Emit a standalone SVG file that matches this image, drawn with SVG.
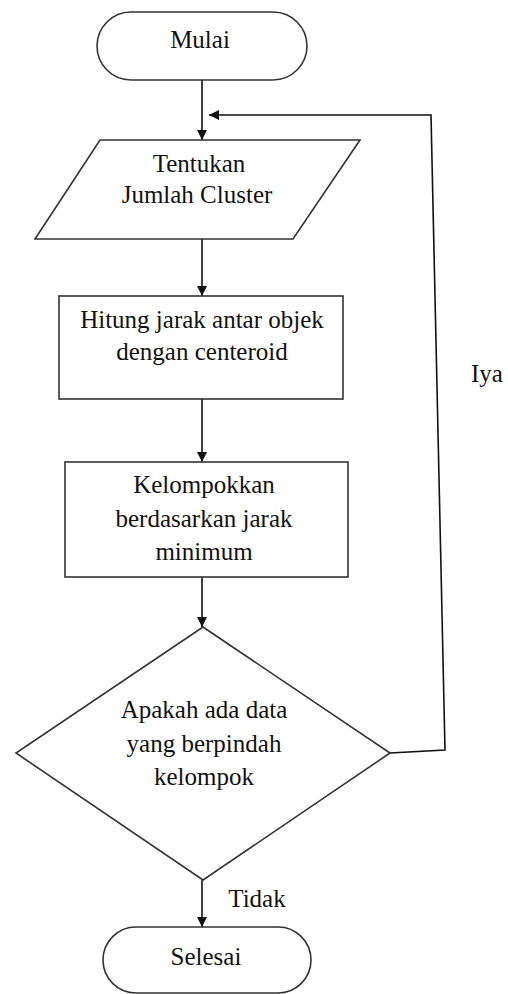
<svg xmlns="http://www.w3.org/2000/svg" width="508" height="994" viewBox="0 0 508 994">
<style>
.shape{fill:#fff;stroke:#333;stroke-width:1.6}
.conn{fill:none;stroke:#111;stroke-width:1.6}
</style>
<defs>
<marker id="arr" viewBox="0 0 10 10" refX="10" refY="5" markerWidth="10" markerHeight="10" markerUnits="userSpaceOnUse" orient="auto">
<path d="M0,0 L10,5 L0,10 Z" fill="#111"/>
</marker>
</defs>
<rect width="508" height="994" fill="#fff"/>
<g font-family="Liberation Serif, Times New Roman, serif" font-size="25" fill="#111" text-anchor="middle">
<g id="connectors">
<line class="conn" x1="202" y1="80" x2="202" y2="140" marker-end="url(#arr)"/>
<line class="conn" x1="202" y1="239" x2="202" y2="296" marker-end="url(#arr)"/>
<line class="conn" x1="202" y1="399" x2="202" y2="462" marker-end="url(#arr)"/>
<line class="conn" x1="202" y1="577" x2="202" y2="627" marker-end="url(#arr)"/>
<line class="conn" x1="202" y1="880" x2="202" y2="927" marker-end="url(#arr)"/>
<polyline class="conn" points="390,753 445,750 431,115 209,115" marker-end="url(#arr)"/>
<text x="257" y="907">Tidak</text>
<text x="487" y="382">Iya</text>
</g>
<g id="mulai">
<rect class="shape" x="97" y="12" width="210" height="68" rx="34" ry="34"/>
<text x="200" y="48">Mulai</text>
</g>
<g id="tentukan">
<polygon class="shape" points="100,140 360,140 293,239 35,239"/>
<text x="199" y="172">Tentukan</text>
<text x="197" y="203">Jumlah Cluster</text>
</g>
<g id="hitung">
<rect class="shape" x="59" y="296" width="284" height="103"/>
<text x="202" y="328">Hitung jarak antar objek</text>
<text x="202" y="360">dengan centeroid</text>
</g>
<g id="kelompokkan">
<rect class="shape" x="65" y="462" width="283" height="115"/>
<text x="204" y="493">Kelompokkan</text>
<text x="204" y="527">berdasarkan jarak</text>
<text x="204" y="560">minimum</text>
</g>
<g id="keputusan">
<polygon class="shape" points="203,627 390,753 203,880 16,753"/>
<text x="204" y="718">Apakah ada data</text>
<text x="204" y="752">yang berpindah</text>
<text x="204" y="785">kelompok</text>
</g>
<g id="selesai">
<rect class="shape" x="103" y="927" width="208" height="66" rx="33" ry="33"/>
<text x="206" y="965">Selesai</text>
</g>
</g>
</svg>
